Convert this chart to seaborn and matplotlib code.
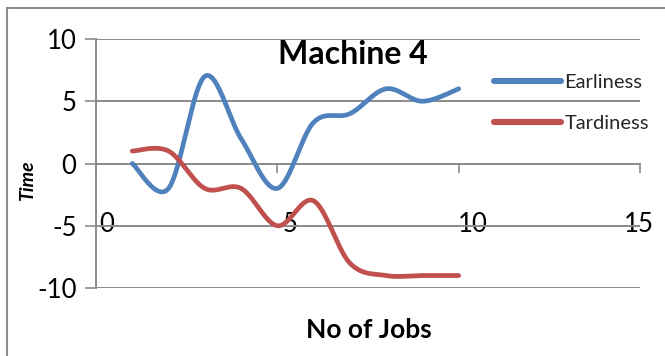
import numpy as np
import pandas as pd
import matplotlib
matplotlib.use("Agg")
import matplotlib.pyplot as plt
import matplotlib.transforms as mtransforms
from matplotlib.patches import Rectangle
from matplotlib.lines import Line2D
import seaborn as sns

# ---- data ----
jobs = [1, 2, 3, 4, 5, 6, 7, 8, 9, 10]
earliness = [0, -2, 7, 2, -2, 3.3, 4, 6, 5, 6]
tardiness = [1, 1, -2, -2, -5, -3, -8, -9, -9, -9]
series_names = ["Earliness", "Tardiness"]
series_colors = ["#4F81BD", "#C0504D"]
x_ticks = [0, 5, 10, 15]
y_ticks = [-10, -5, 0, 5, 10]
title_text = "Machine 4"
x_label = "No of Jobs"
y_label = "Time"


def excel_smooth(xs, ys, n=40):
    """Excel-style smoothed line (Catmull-Rom Bezier) through the points."""
    xs = np.asarray(xs, float)
    ys = np.asarray(ys, float)
    px = np.concatenate([[xs[0]], xs, [xs[-1]]])
    py = np.concatenate([[ys[0]], ys, [ys[-1]]])
    out_x, out_y = [], []
    t = np.linspace(0, 1, n)
    for i in range(1, len(px) - 2):
        p0x, p1x, p2x, p3x = px[i - 1], px[i], px[i + 1], px[i + 2]
        p0y, p1y, p2y, p3y = py[i - 1], py[i], py[i + 1], py[i + 2]
        b1x = p1x + (p2x - p0x) / 6
        b1y = p1y + (p2y - p0y) / 6
        b2x = p2x - (p3x - p1x) / 6
        b2y = p2y - (p3y - p1y) / 6
        bx = (1 - t) ** 3 * p1x + 3 * (1 - t) ** 2 * t * b1x + 3 * (1 - t) * t ** 2 * b2x + t ** 3 * p2x
        by = (1 - t) ** 3 * p1y + 3 * (1 - t) ** 2 * t * b1y + 3 * (1 - t) * t ** 2 * b2y + t ** 3 * p2y
        out_x.extend(bx if i == 1 else bx[1:])
        out_y.extend(by if i == 1 else by[1:])
    return np.array(out_x), np.array(out_y)


frames = []
for name, vals in zip(series_names, [earliness, tardiness]):
    sx, sy = excel_smooth(jobs, vals)
    frames.append(pd.DataFrame({"Jobs": sx, "Time": sy, "Series": name}))
df = pd.concat(frames, ignore_index=True)

sns.set_theme(style="white")
plt.rcParams["font.family"] = ["Lato", "DejaVu Sans"]

W, H = 665, 356
fig = plt.figure(figsize=(W / 100, H / 100), dpi=100)
ax = fig.add_axes([96 / W, 1 - 288 / H, (640 - 96) / W, (288 - 39) / H])

grid_color = "#8a8a8a"

sns.lineplot(data=df, x="Jobs", y="Time", hue="Series", palette=series_colors,
             hue_order=series_names, sort=False, estimator=None, units="Series",
             linewidth=3.4, ax=ax, legend=False, zorder=3)

ax.set_xlim(0, 15)
ax.set_ylim(-10, 10)
ax.set_xticks(x_ticks)
ax.set_yticks(y_ticks)
ax.set_yticklabels([str(v) for v in y_ticks])
ax.set_xticklabels([str(v) for v in x_ticks])
ax.set_xlabel("")
ax.set_ylabel("")

for yv in y_ticks:
    if yv != 0:
        ax.axhline(yv, color=grid_color, lw=1.4, zorder=1)

for s in ["top", "right"]:
    ax.spines[s].set_visible(False)
ax.spines["left"].set_color(grid_color)
ax.spines["left"].set_linewidth(1.4)
ax.spines["bottom"].set_position(("data", 0))
ax.spines["bottom"].set_color(grid_color)
ax.spines["bottom"].set_linewidth(1.4)

ax.tick_params(axis="y", direction="out", length=8, width=1.2, color=grid_color,
               pad=6, labelsize=18.5, labelcolor="black", left=True)
ax.tick_params(axis="x", direction="out", length=6.5, width=1.2, color=grid_color,
               pad=28.5, labelsize=18.5, labelcolor="black", bottom=True)

# Excel-like horizontal offsets of the category labels
offsets_px = [11, 13, 14, -1]
for lab, off in zip(ax.get_xticklabels(), offsets_px):
    lab.set_transform(lab.get_transform() + mtransforms.ScaledTranslation(off / 100, 0, fig.dpi_scale_trans))

handles = [Line2D([0], [0], color=c, lw=4.4) for c in series_colors]
leg = fig.legend(handles, series_names, loc="upper left",
                 bbox_to_anchor=(486 / W, 1 - 66 / H), frameon=False,
                 fontsize=14.5, handlelength=3.3, handletextpad=0.2,
                 labelspacing=1.2, borderaxespad=0)

fig.text(353 / W, 1 - 54 / H, title_text, ha="center", va="center",
         fontsize=23, fontweight="bold", color="black")
fig.text(369 / W, 1 - 330 / H, x_label, ha="center", va="center",
         fontsize=19, fontweight="bold", color="black")
fig.text(27.5 / W, 1 - 180 / H, y_label, ha="center", va="center",
         rotation=90, fontsize=14, fontweight="bold", fontstyle="italic", color="black")

fig.patches.append(Rectangle((7 / W, -0.2), 2, 1.2 - 8 / H, transform=fig.transFigure,
                             fill=False, edgecolor="#8c8c8c", lw=1.5))

fig.savefig("out.png", dpi=100)
